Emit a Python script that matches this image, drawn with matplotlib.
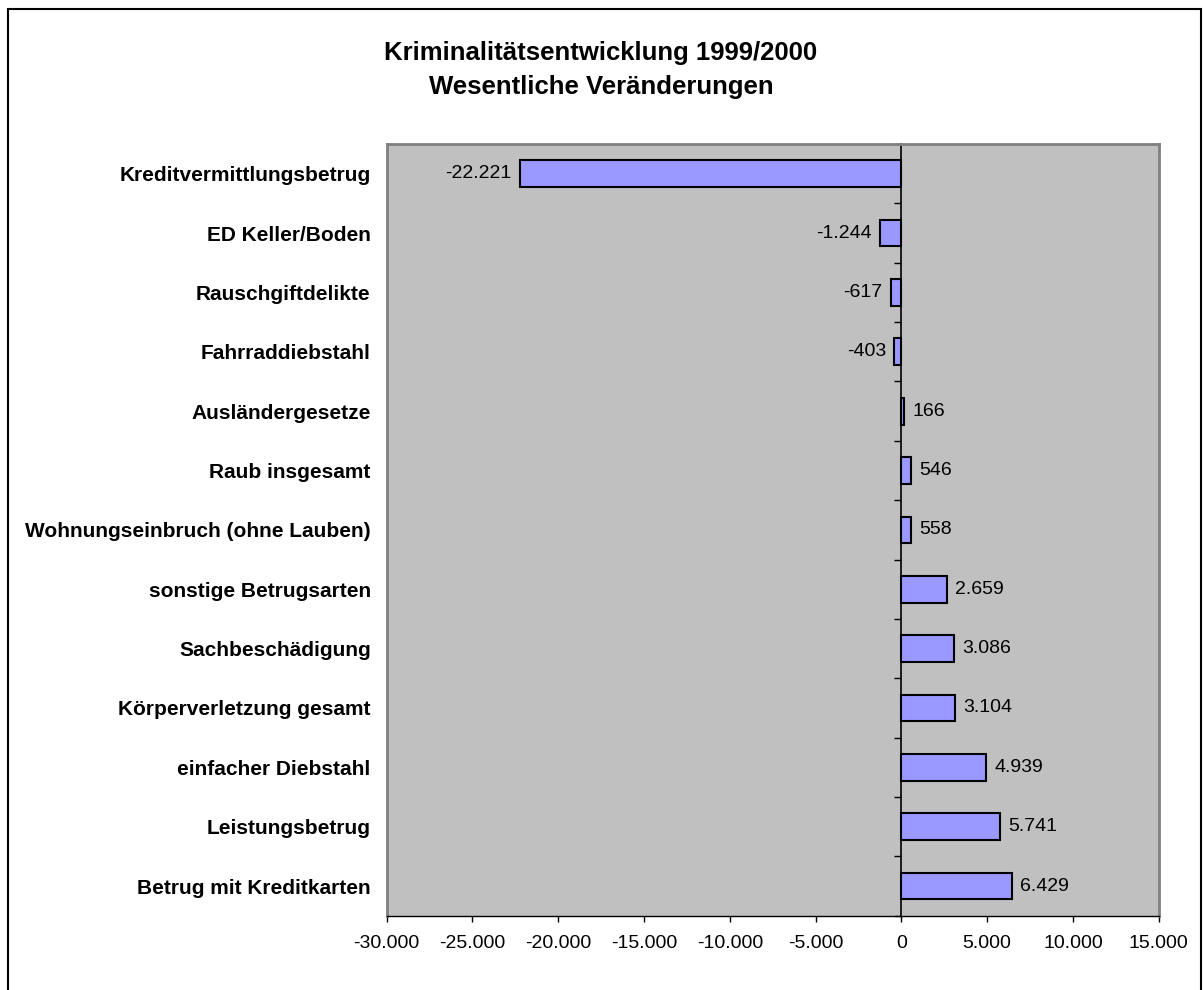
import matplotlib.pyplot as plt
import matplotlib.patches as mpatches
import numpy as np

plt.rcParams['font.family'] = ['Liberation Sans', 'DejaVu Sans']

# data (top to bottom as in the chart)
categories = ["Kreditvermittlungsbetrug", "ED Keller/Boden", "Rauschgiftdelikte",
              "Fahrraddiebstahl", "Ausländergesetze", "Raub insgesamt",
              "Wohnungseinbruch (ohne Lauben)", "sonstige Betrugsarten",
              "Sachbeschädigung", "Körperverletzung gesamt", "einfacher Diebstahl",
              "Leistungsbetrug", "Betrug mit Kreditkarten"]
changes = [-22221, -1244, -617, -403, 166, 546, 558, 2659, 3086, 3104, 4939, 5741, 6429]
x_ticks = [-30000, -25000, -20000, -15000, -10000, -5000, 0, 5000, 10000, 15000]


def de_fmt(v):
    return f"{v:,}".replace(",", ".")


fig = plt.figure(figsize=(12.03, 9.90), dpi=100)
ax = fig.add_axes([0.3214, 0.075, 0.6418, 0.7795])

y = np.arange(len(categories))
ax.barh(y, changes, height=0.45, color="#9999FF", edgecolor="black", linewidth=1.5, zorder=3)

ax.set_xlim(x_ticks[0], x_ticks[-1])
ax.set_ylim(len(categories) - 0.5, -0.5)
ax.set_facecolor("#C0C0C0")

# category labels on the left, no tick marks
ax.set_yticks(y)
ax.set_yticklabels(categories, fontsize=15, fontweight="bold")
ax.tick_params(axis="y", length=0, pad=11.5)

# x axis
ax.set_xticks(x_ticks)
ax.set_xticklabels([de_fmt(v) for v in x_ticks], fontsize=14)
ax.tick_params(axis="x", direction="out", length=4.5, width=1, pad=9)

# borders of the plot area
for s in ["left", "top", "right"]:
    ax.spines[s].set_color("#808080")
    ax.spines[s].set_linewidth(2)
ax.spines["bottom"].set_color("black")
ax.spines["bottom"].set_linewidth(1)

# value axis at zero with tick marks between categories
sec = ax.secondary_yaxis(0, transform=ax.transData)
sec.set_yticks(np.arange(len(categories) + 1) - 0.5)
sec.set_yticklabels([])
sec.tick_params(axis="y", direction="out", length=5, width=1, colors="black")
sec.spines["left"].set_color("black")
sec.spines["left"].set_linewidth(1.2)

# data labels
for yi, v in zip(y, changes):
    off = 6 if v >= 0 else -6
    ha = "left" if v >= 0 else "right"
    ax.annotate(de_fmt(v), xy=(v, yi), xytext=(off, 0), textcoords="offset points",
                ha=ha, va="center", fontsize=14, zorder=4)

# title
fig.text(0.4996, 0.9465, "Kriminalitätsentwicklung 1999/2000", ha="center", va="center",
         fontsize=18.5, fontweight="bold")
fig.text(0.4996, 0.912, "Wesentliche Veränderungen", ha="center", va="center",
         fontsize=18.5, fontweight="bold")

# outer frame of the chart
frame = mpatches.Rectangle((8 / 1203, -0.01), (1201 - 8) / 1203, 1 - 9 / 990 + 0.01,
                           transform=fig.transFigure, fill=False, edgecolor="black",
                           linewidth=1.5)
fig.patches.append(frame)

fig.savefig("out.png", dpi=100)
